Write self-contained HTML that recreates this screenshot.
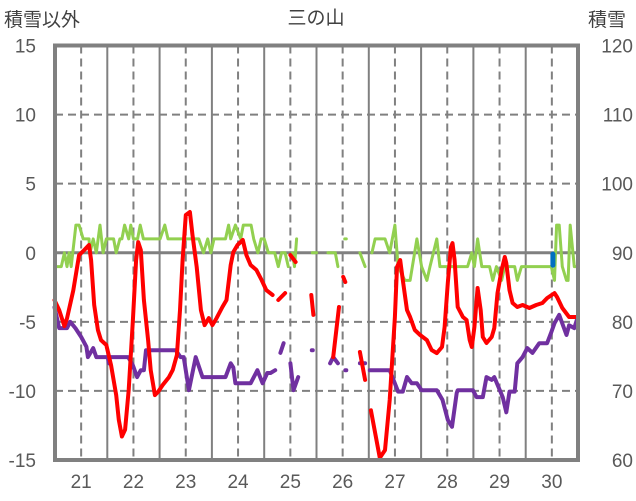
<!DOCTYPE html>
<html><head><meta charset="utf-8"><style>
html,body{margin:0;padding:0;background:#fff;}
svg{display:block;font-family:"Liberation Sans","Noto Sans CJK JP",sans-serif;}
</style></head><body>
<svg id="chart" width="636" height="501" viewBox="0 0 636 501">
<text x="316" y="24" font-size="19" fill="#404040" text-anchor="middle">三の山</text>
<text x="4" y="26" font-size="19" fill="#404040">積雪以外</text>
<text x="588" y="26" font-size="19" fill="#404040">積雪</text>
<g id="grid"></g><g id="series"></g><g id="labels"></g>
<rect x="55" y="45.5" width="523" height="414.5" fill="none" stroke="#808080" stroke-width="4"/>
</svg>
<script>
const dayTicks=[21,22,23,24,25,26,27,28,29,30];
const leftTicks=[15,10,5,0,-5,-10,-15];
const rightTicks=[120,110,100,90,80,70,60];
const redSeries=[[20.49,-3.43],[20.58,-4.15],[20.68,-5.31],[20.73,-4.75],[20.85,-2.72],[20.96,-0.17],[21.06,0.2],[21.15,0.56],[21.19,-0.53],[21.25,-3.78],[21.32,-5.59],[21.38,-6.32],[21.48,-6.68],[21.57,-8.12],[21.67,-10.3],[21.72,-12.1],[21.78,-13.3],[21.84,-12.8],[21.91,-9.93],[21.99,-4.87],[22.05,-0.53],[22.09,0.77],[22.14,0.2],[22.2,-3.42],[22.28,-6.32],[22.33,-8.49],[22.41,-10.3],[22.47,-10.08],[22.56,-9.57],[22.68,-9.0],[22.75,-8.49],[22.83,-7.4],[22.89,-4.15],[22.94,-0.53],[23.0,2.73],[23.08,2.95],[23.13,1.28],[23.21,-1.03],[23.29,-4.15],[23.36,-5.24],[23.44,-4.73],[23.51,-5.24],[23.59,-4.73],[23.7,-3.93],[23.78,-3.42],[23.86,-0.89],[23.91,0.05],[23.99,0.56],[24.09,0.92],[24.16,-0.17],[24.24,-0.89],[24.35,-1.25],[24.45,-1.97],[24.54,-2.7],[24.66,-3.06],null,[24.77,-3.42],[24.9,-2.92],null,[25.0,-0.17],[25.1,-0.67],null,[25.4,-3.06],[25.44,-4.5],null,[25.82,-7.55],[25.93,-3.93],null,[26.01,-1.75],[26.05,-2.12],null,[26.33,-7.18],[26.43,-9.2],null,[26.54,-11.4],[26.71,-14.85],[26.81,-14.28],[26.9,-10.66],[27.0,-4.65],[27.04,-1.03],[27.1,-0.53],[27.15,-1.97],[27.23,-4.15],[27.29,-4.65],[27.38,-5.59],[27.48,-5.95],[27.61,-6.32],[27.7,-7.04],[27.8,-7.26],[27.9,-6.82],[27.95,-5.38],[28.01,-2.19],[28.07,0.41],[28.1,0.7],[28.14,-0.53],[28.2,-3.93],[28.3,-4.65],[28.37,-4.87],[28.43,-6.32],[28.47,-6.82],[28.52,-5.38],[28.58,-2.55],[28.64,-4.15],[28.68,-6.1],[28.75,-6.53],[28.85,-6.1],[28.9,-5.45],[28.96,-2.92],[29.04,-1.25],[29.1,-0.31],[29.13,-0.75],[29.19,-2.7],[29.25,-3.64],[29.34,-3.93],[29.44,-3.78],[29.57,-4.0],[29.7,-3.78],[29.82,-3.64],[29.91,-3.28],[30.05,-2.92],[30.1,-3.21],[30.2,-4.0],[30.33,-4.65],[30.47,-4.65]];
const snowSeries=[[20.49,82.1],[20.58,79.1],[20.73,79.1],[20.79,80.0],[20.89,79.1],[21.0,77.8],[21.1,76.4],[21.13,74.9],[21.23,76.2],[21.29,74.9],[21.51,74.9],[21.53,74.0],[21.55,74.9],[21.9,74.9],[21.99,73.7],[22.07,72.0],[22.14,73.0],[22.2,73.0],[22.24,75.9],[22.81,75.9],[22.9,74.9],[22.96,74.9],[23.06,70.1],[23.19,74.9],[23.32,72.0],[23.76,72.0],[23.86,74.0],[23.91,73.4],[23.95,71.1],[24.24,71.1],[24.37,73.0],[24.47,71.1],[24.56,72.6],[24.62,72.6],[24.71,73.0],null,[24.81,75.5],[24.87,76.9],null,[25.0,74.0],[25.06,70.1],[25.15,72.0],null,[25.41,75.9],[25.43,75.9],null,[25.76,74.0],[25.82,74.9],[25.91,74.0],null,[26.05,73.0],[26.07,73.0],null,[26.33,74.0],[26.43,74.0],null,[26.52,73.0],[26.9,73.0],[27.06,69.9],[27.15,69.9],[27.23,72.0],[27.32,71.1],[27.42,71.1],[27.51,70.1],[27.8,70.1],[27.91,68.7],[28.01,65.8],[28.09,64.8],[28.18,69.7],[28.2,70.1],[28.49,70.1],[28.56,69.1],[28.68,69.1],[28.75,72.0],[28.85,71.6],[28.9,72.0],[29.06,69.1],[29.13,66.9],[29.19,69.9],[29.29,69.9],[29.34,74.0],[29.44,74.9],[29.53,76.2],[29.63,75.5],[29.76,76.9],[29.91,76.9],[29.99,78.5],[30.05,79.8],[30.14,81.0],[30.28,78.1],[30.33,79.5],[30.43,79.1],[30.49,80.6]];
const greenSeries=[[20.49,-1],[20.62,-1],[20.68,0],[20.73,-1],[20.77,0],[20.81,-1],[20.9,2],[20.96,2],[21.04,1],[21.15,1],[21.17,0],[21.23,1],[21.29,0],[21.36,2],[21.42,0],[21.48,1],[21.62,1],[21.67,0],[21.74,1],[21.78,1],[21.83,2],[21.91,1],[21.95,2],[22.0,1],[22.08,1],[22.13,2],[22.19,1],[22.51,1],[22.6,2],[22.66,1],[23.25,1],[23.34,0],[23.42,1],[23.48,0],[23.54,1],[23.76,1],[23.82,2],[23.86,1],[23.95,2],[24.05,1],[24.1,2],[24.25,2],[24.3,1],[24.38,0],[24.44,1],[24.5,1],[24.58,0],[24.7,0],[24.77,-1],[24.83,0],[24.9,0],[24.96,-1],null,[25.04,0],[25.08,-1],[25.12,1],null,[25.42,0],[25.5,0],null,[25.72,0],[25.86,0],[25.91,-1],null,[26.04,1],[26.07,1],null,[26.33,0],[26.43,-1],null,[26.56,0],[26.62,1],[26.81,1],[26.9,0],[27.0,2],[27.06,-1],[27.19,-2],[27.29,-2],[27.42,1],[27.51,-1],[27.61,-2],[27.67,-1],[27.8,1],[27.86,-1],[28.39,-1],[28.47,0],[28.52,-1],[28.58,1],[28.66,-1],[28.81,-1],[28.87,-2],[28.94,-1],[29.04,-2],[29.1,-1],[29.29,-1],[29.34,-2],[29.42,-1],[29.99,-1],[30.05,-2],[30.09,2],[30.14,2],[30.2,-1],[30.28,-2],[30.31,-2],[30.35,2],[30.43,-1],[30.49,-1]];
const blueSeries=[[30.02,-0.1],[30.02,-0.9]];

const X0=55,X1=578,Y0=45.5,Y1=460;
const dMin=20.5,dMax=30.5;
function xs(d){return X0+(d-dMin)/(dMax-dMin)*(X1-X0);}
function yl(v){return Y1-(v+15)/30*(Y1-Y0);}
function yr(v){return Y1-(v-60)/60*(Y1-Y0);}
const NS='http://www.w3.org/2000/svg';
function mk(tag,attrs,parent){const e=document.createElementNS(NS,tag);for(const k in attrs)e.setAttribute(k,attrs[k]);parent.appendChild(e);return e;}
const grid=document.getElementById('grid'),ser=document.getElementById('series'),lab=document.getElementById('labels');

leftTicks.forEach(t=>{
  if(t===15||t===-15)return;
  const y=yl(t);
  const l=mk('line',{x1:X0,x2:X1,y1:y,y2:y,stroke:'#808080','stroke-width':t===0?3:2,'stroke-dasharray':t===0?'none':'8,5'},grid);
  
  
});
for(let d=21;d<=30;d++){
  const xb=xs(d-0.5);
  if(d>21){const l=mk('line',{x1:xb,x2:xb,y1:Y0,y2:Y1,stroke:'#808080','stroke-width':2},grid);
  
  }
}
dayTicks.forEach(d=>{
  const x=xs(d);
  const l=mk('line',{x1:x,x2:x,y1:Y0,y2:Y1,stroke:'#808080','stroke-width':2,'stroke-dasharray':'8,5'},grid);
  
  
  const t=mk('text',{x:x,y:488,'font-size':19,fill:'#595959','text-anchor':'middle'},lab);
  t.textContent=d;
  
  
});
leftTicks.forEach(v=>{
  const t=mk('text',{x:36,y:yl(v)+7,'font-size':19,fill:'#595959','text-anchor':'end'},lab);
  t.textContent=v;
  
  
});
rightTicks.forEach(v=>{
  const t=mk('text',{x:633,y:yr(v)+7,'font-size':19,fill:'#595959','text-anchor':'end'},lab);
  t.textContent=v;
  
  
});
function pathOf(data,yf){
  let s='',pen=false;
  data.forEach(p=>{if(!p){pen=false;return;}s+=(pen?'L':'M')+xs(p[0]).toFixed(1)+','+yf(p[1]).toFixed(1);pen=true;});
  return s;
}
function drawLine(data,yf,color,w,name){
  const p=mk('path',{d:pathOf(data,yf),fill:'none',stroke:color,'stroke-width':w,'stroke-linejoin':'round','stroke-linecap':'round'},ser);
  
  
}
drawLine(greenSeries,yl,'#92d050',3,'green-series-line');
drawLine(blueSeries,yl,'#0070c0',5,'blue-series-line');
drawLine(snowSeries,yr,'#7030a0',4,'snow-depth-line');
drawLine(redSeries,yl,'#ff0000',4,'temperature-line');
</script>
</body></html>
